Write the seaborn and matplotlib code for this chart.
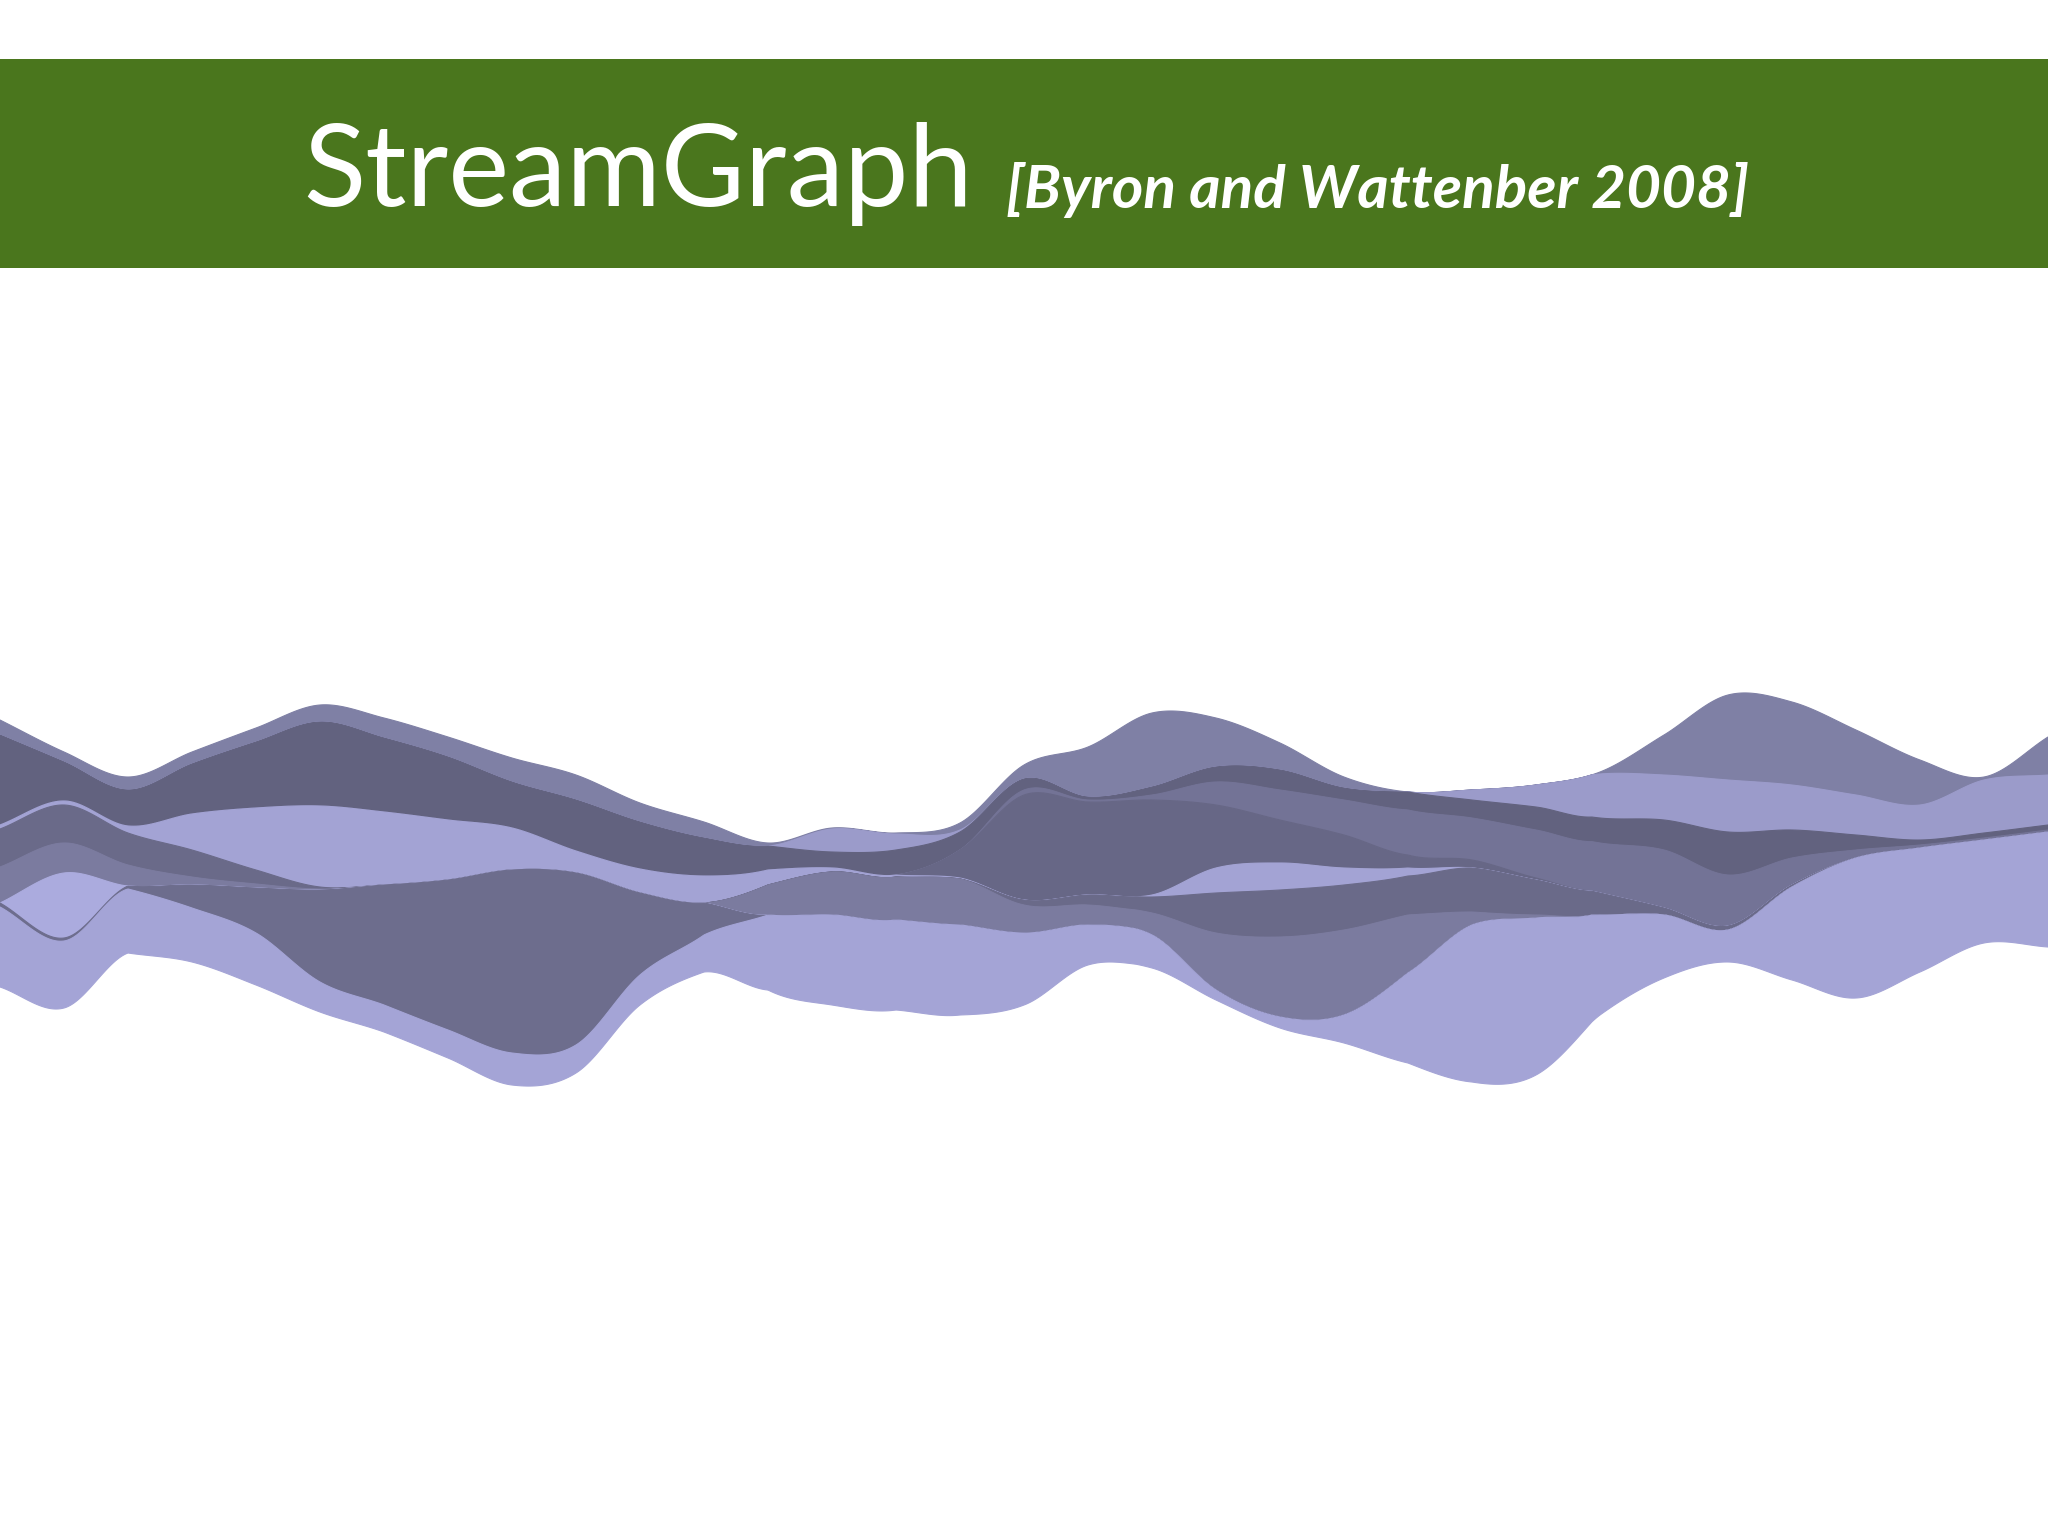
import numpy as np
import matplotlib
matplotlib.use("Agg")
import matplotlib.pyplot as plt
import seaborn as sns
from matplotlib.patches import Rectangle

sns.set_theme(style="white")
plt.rcParams['font.family'] = ['Lato', 'DejaVu Sans']

# ---------------- data ----------------
# time steps (33 samples across the stream)
steps = list(range(33))

# offset of the upper edge of the stream (silhouette baseline)
top_offset = [720, 752, 777, 752, 728, 705, 718, 737, 758, 775, 803, 822, 843, 828, 833, 823,
              765, 747, 713, 718, 743, 777, 792, 790, 785, 772, 735, 695, 702, 730, 760, 777, 737]

# layer thicknesses, listed from the top layer of the stream to the bottom layer
layer_names = ["A", "B", "C", "D", "C2", "E", "F", "G", "H", "I", "J"]
A  = [15, 10, 13, 12, 14, 17, 20, 20, 24, 25, 19, 16, 3, 1, 1, 7, 14, 50, 74, 49, 27, 11, 0, 0, 0, 2, 40, 85, 83, 65, 45, 3, 38]
B  = [0, 0, 0, 0, 0, 0, 0, 0, 0, 0, 0, 0, 0, 23, 16, 2, 0, 0, 0, 0, 0, 0, 0, 10, 22, 44, 45, 52, 45, 40, 35, 53, 50]
C  = [90, 39, 36, 50, 66, 84, 74, 63, 46, 51, 47, 38, 24, 16, 25, 18, 11, 3, 8, 15, 20, 12, 18, 18, 23, 25, 30, 43, 28, 15, 5, 5, 5]
D  = [0, 0, 0, 0, 0, 0, 0, 0, 0, 0, 0, 0, 0, 0, 0, 0, 5, 2, 5, 23, 30, 35, 45, 42, 48, 50, 58, 51, 27, 8, 3, 2, 2]
C2 = [0, 0, 0, 0, 0, 0, 0, 0, 0, 0, 0, 0, 0, 0, 0, 28, 105, 93, 95, 63, 43, 33, 13, 8, 2, 0, 0, 0, 0, 0, 0, 0, 0]
E  = [4, 4, 7, 36, 62, 81, 73, 60, 42, 22, 24, 27, 15, 4, 2, 1, 0, 0, 2, 25, 27, 17, 8, 0, 0, 0, 0, 0, 0, 0, 0, 0, 0]
F  = [38, 38, 32, 27, 14, 2, 0, 0, 0, 0, 0, 0, 0, 0, 0, 0, 5, 10, 16, 40, 47, 45, 39, 44, 35, 22, 7, 4, 2, 0, 0, 0, 0]
G  = [36, 30, 21, 8, 4, 1, 0, 0, 0, 0, 0, 0, 30, 43, 43, 46, 28, 20, 22, 57, 80, 85, 58, 13, 3, 0, 0, 0, 0, 0, 0, 0, 0]
H  = [0, 65, 0, 0, 0, 0, 0, 0, 0, 0, 0, 0, 0, 0, 0, 0, 0, 0, 0, 0, 0, 0, 0, 0, 0, 0, 0, 0, 0, 0, 0, 0, 0]
I  = [4, 3, 3, 23, 45, 92, 120, 150, 183, 172, 82, 32, 0, 0, 0, 0, 0, 0, 0, 0, 0, 0, 0, 0, 0, 0, 0, 0, 0, 0, 0, 0, 0]
J  = [80, 67, 64, 54, 52, 30, 27, 28, 32, 28, 30, 37, 75, 90, 90, 90, 72, 40, 33, 10, 11, 28, 90, 157, 157, 100, 63, 32, 93, 140, 124, 103, 115]

layer_colors = ["#7f80a5", "#9b9bca", "#62627f", "#737396", "#676786", "#a3a3d4",
                "#6a6a89", "#7b7b9f", "#ababde", "#6d6d8d", "#a4a4d6"]

title_text = "StreamGraph"
subtitle_text = "[Byron and Wattenber 2008]"


# ---------------- helpers ----------------
def smooth_curve(x, y, xn):
    """Catmull-Rom cubic through the sample points (drawing only)."""
    x = np.asarray(x, float)
    y = np.asarray(y, float)
    n = len(y)
    m = np.zeros_like(y)
    m[1:-1] = (y[2:] - y[:-2]) / (x[2:] - x[:-2])
    m[0] = (y[1] - y[0]) / (x[1] - x[0])
    m[-1] = (y[-1] - y[-2]) / (x[-1] - x[-2])
    h = np.diff(x)
    idx = np.clip(np.searchsorted(x, xn) - 1, 0, n - 2)
    hh = h[idx]
    s = (xn - x[idx]) / hh
    h00 = 2 * s**3 - 3 * s**2 + 1
    h10 = s**3 - 2 * s**2 + s
    h01 = -2 * s**3 + 3 * s**2
    h11 = s**3 - s**2
    return h00 * y[idx] + h10 * hh * m[idx] + h01 * y[idx + 1] + h11 * hh * m[idx + 1]


# ---------------- figure ----------------
W, H_px = 2048, 1536
fig = plt.figure(figsize=(W / 100, H_px / 100), dpi=100, facecolor="white")
ax = fig.add_axes([0, 0, 1, 1])
ax.set_facecolor("white")

xs = np.linspace(steps[0], steps[-1], 1600)
upper = smooth_curve(steps, top_offset, xs)
layers = [A, B, C, D, C2, E, F, G, H, I, J]
for vals, col in zip(layers, layer_colors):
    th = np.clip(smooth_curve(steps, vals, xs), 0, None)
    lower = upper + th
    ax.fill_between(xs, upper, lower, color=col, linewidth=0.8, edgecolor=col)
    upper = lower

ax.set_xlim(steps[0], steps[-1])
ax.set_ylim(H_px, 0)
ax.axis("off")

# green title banner
fig.patches.append(Rectangle((0, 1 - 268 / H_px), 1, (268 - 59) / H_px,
                             transform=fig.transFigure, facecolor="#4a761d",
                             edgecolor="none", zorder=1))

t1 = fig.text(303 / W, 1 - 206 / H_px, title_text, color="white", fontsize=82,
              ha="left", va="baseline", zorder=3)
t2 = fig.text(1006 / W, 1 - 208 / H_px, subtitle_text, color="white", fontsize=40,
              fontstyle="italic", fontweight="bold", ha="left", va="baseline", zorder=3)

fig.canvas.draw()
r = fig.canvas.get_renderer()
for txt, target in ((t1, 670), (t2, 742)):
    bb = txt.get_window_extent(r)
    txt.set_fontsize(txt.get_fontsize() * target / bb.width)

fig.savefig("out.png", dpi=100, facecolor="white")
